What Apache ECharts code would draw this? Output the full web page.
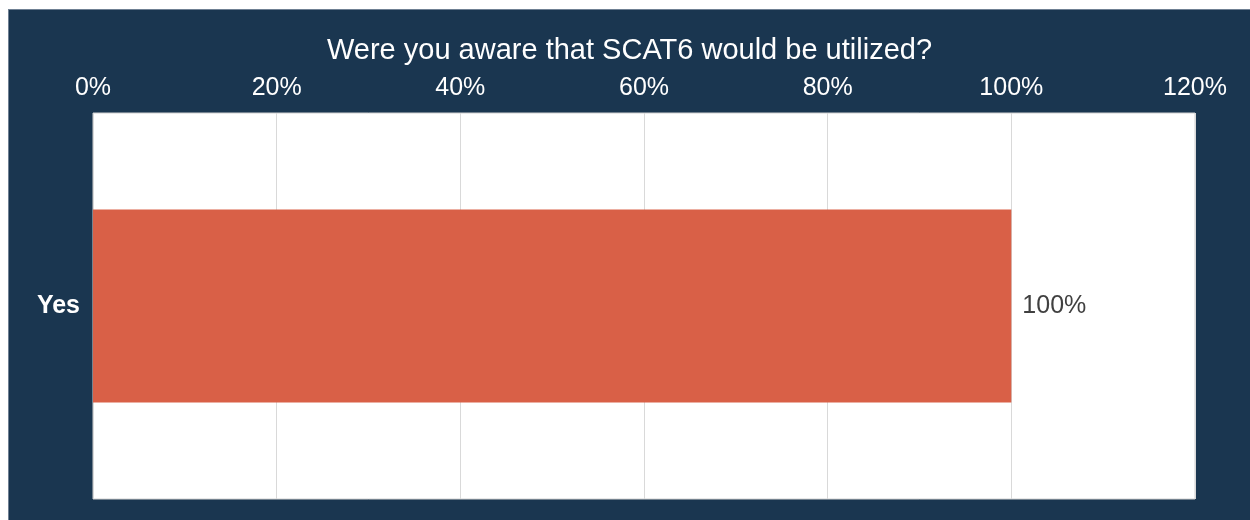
<!DOCTYPE html>
<html>
<head>
<meta charset="utf-8">
<script src="https://cdn.jsdelivr.net/npm/echarts@6/dist/echarts.min.js"></script>
<style>
  html, body { margin: 0; padding: 0; background: #ffffff; }
  #chart {
    position: absolute; left: 8px; top: 9px; width: 1242px; height: 511px;
    background: #1a3650; border-top: 1px solid #6f8093; border-left: 1px solid #6f8093;
    box-sizing: border-box;
  }
</style>
</head>
<body>
<div id="chart"></div>
<script>
const titleText = 'Were you aware that SCAT6 would be utilized?';
const categories = ['Yes'];
const percentValues = [100];
const tickMax = 120;
const tickStep = 20;

const fontFamily = 'Liberation Sans, Arial, sans-serif';

const chart = echarts.init(document.getElementById('chart'), null, { renderer: 'canvas' });
chart.setOption({
  animation: false,
  backgroundColor: '#1a3650',
  title: {
    text: titleText,
    left: 'center',
    top: 21,
    textStyle: { color: '#ffffff', fontSize: 29, fontWeight: 'normal', fontFamily: fontFamily }
  },
  grid: {
    left: 84, top: 103, right: 55, bottom: 21,
    show: true, backgroundColor: '#ffffff', borderWidth: 1, borderColor: '#d0d0d0',
    containLabel: false
  },
  xAxis: {
    type: 'value',
    position: 'top',
    min: 0, max: tickMax, interval: tickStep,
    axisLine: { show: false },
    axisTick: { show: false },
    splitLine: { show: true, lineStyle: { color: '#d9d9d9', width: 1 } },
    axisLabel: {
      color: '#ffffff', fontSize: 25, margin: 12,
      fontFamily: fontFamily,
      formatter: '{value}%'
    }
  },
  yAxis: {
    type: 'category',
    data: categories,
    axisLine: { show: false },
    axisTick: { show: false },
    axisLabel: {
      color: '#ffffff', fontSize: 25, fontWeight: 'bold', margin: 13,
      fontFamily: fontFamily
    }
  },
  series: [{
    type: 'bar',
    data: percentValues,
    barWidth: '50%',
    itemStyle: { color: '#d96047' },
    label: {
      show: true, position: 'right', distance: 11,
      color: '#404040', fontSize: 25,
      fontFamily: fontFamily,
      formatter: '{c}%'
    }
  }]
});
</script>
</body>
</html>
